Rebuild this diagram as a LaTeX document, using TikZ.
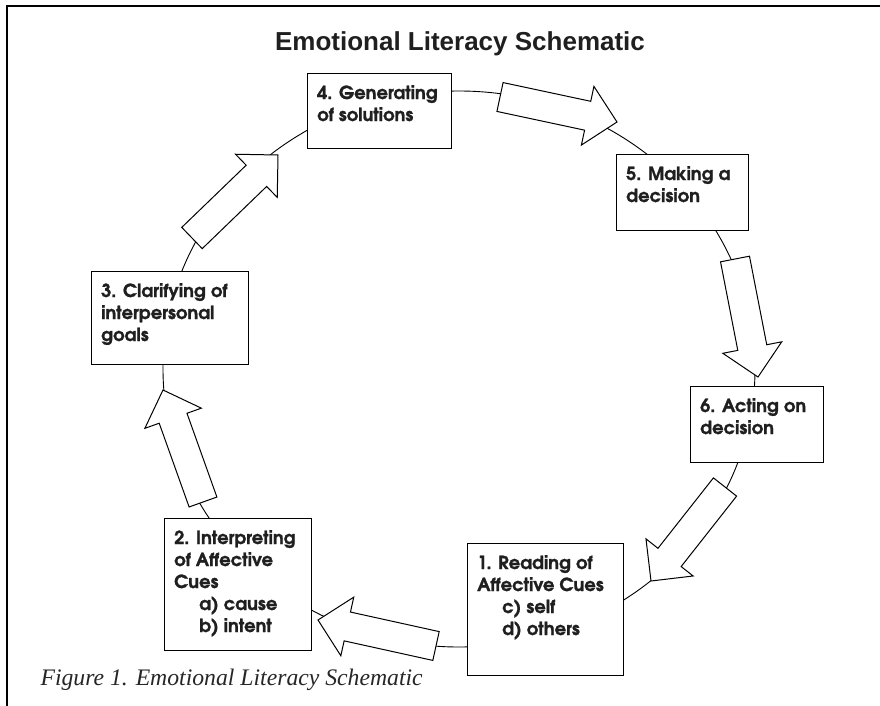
\documentclass[tikz,border=0pt]{standalone}
\usepackage{fontspec}
\usepackage{tikz}
\usetikzlibrary{calc}
\setmainfont{Liberation Serif}
\newfontfamily\headfont{Liberation Sans}
\newfontfamily\stagefont{texgyreadventor}[Extension=.otf, UprightFont=*-regular, BoldFont=*-bold, BoldFeatures={FakeBold=1.2}]

\tikzset{
  stage/.style={draw, fill=white, line width=1pt, anchor=north west, inner sep=0pt},
  stagetext/.style={anchor=north west, align=left, inner xsep=10pt, inner ysep=12pt,
    font=\stagefont\bfseries\fontsize{18}{22}\selectfont, text=black!88},
  arrowbody/.style={draw, fill=white, line width=1pt, line join=miter}
}

\newcommand{\stagearrow}[2]{%
  \coordinate (h) at ($(#2)!30pt!(#1)$);
  \draw[arrowbody] ($(#1)!14.75pt!90:(#2)$) -- ($(h)!14.75pt!90:(#2)$)
    -- ($(h)!30pt!90:(#2)$) -- (#2) -- ($(h)!30pt!-90:(#2)$)
    -- ($(h)!14.75pt!-90:(#2)$) -- ($(#1)!14.75pt!-90:(#2)$) -- cycle;
}

\begin{document}
\begin{tikzpicture}[x=1pt, y=-1pt]
	\useasboundingbox (0,0) rectangle (880,706);

	\draw[line width=2pt] (7,706) -- (7,6) -- (880,6);

	\node[anchor=base, font=\headfont\bfseries\fontsize{26}{30}\selectfont, text=black!88] (title) at (460,51) {Emotional Literacy Schematic};

	\draw[line width=0.9pt] (459,369) ellipse (296 and 278);

	\node[stage, minimum width=156pt, minimum height=132pt] (s1) at (467,543) {};
	\node[stagetext] (l1) at (s1.north west) {1. Reading of\\Affective Cues\\\hspace*{25pt}c) self\\\hspace*{25pt}d) others};

	\node[stage, minimum width=147pt, minimum height=132pt] (s2) at (164,518) {};
	\node[stagetext] (l2) at (s2.north west) {2. Interpreting\\of Affective\\Cues\\\hspace*{25pt}a) cause\\\hspace*{25pt}b) intent};

	\node[stage, minimum width=157pt, minimum height=93pt] (s3) at (91,271) {};
	\node[stagetext] (l3) at (s3.north west) {3. Clarifying of\\interpersonal\\goals};

	\node[stage, minimum width=144pt, minimum height=75pt] (s4) at (307,73) {};
	\node[stagetext] (l4) at (s4.north west) {4. Generating\\of solutions};

	\node[stage, minimum width=132pt, minimum height=76pt] (s5) at (616,154) {};
	\node[stagetext] (l5) at (s5.north west) {5. Making a\\decision};

	\node[stage, minimum width=133pt, minimum height=76pt] (s6) at (690,386) {};
	\node[stagetext] (l6) at (s6.north west) {6. Acting on\\decision};

	\coordinate (tail1) at (500,97);
	\coordinate (tip1) at (617,122);
	\coordinate (tail2) at (735,259);
	\coordinate (tip2) at (758,377);
	\coordinate (tail3) at (725,487);
	\coordinate (tip3) at (651,581);
	\coordinate (tail4) at (436,646);
	\coordinate (tip4) at (318,620);
	\coordinate (tail5) at (203,502);
	\coordinate (tip5) at (163,390);
	\coordinate (tail6) at (192,238);
	\coordinate (tip6) at (278,155);

	\foreach \i in {1,...,6} {
		\stagearrow{tail\i}{tip\i}
	}

	\node[anchor=base west, font=\itshape\fontsize{23.7}{28}\selectfont, text=black!85] (caption) at (37,685) {Figure 1. Emotional Literacy Schematic};
\end{tikzpicture}
\end{document}
